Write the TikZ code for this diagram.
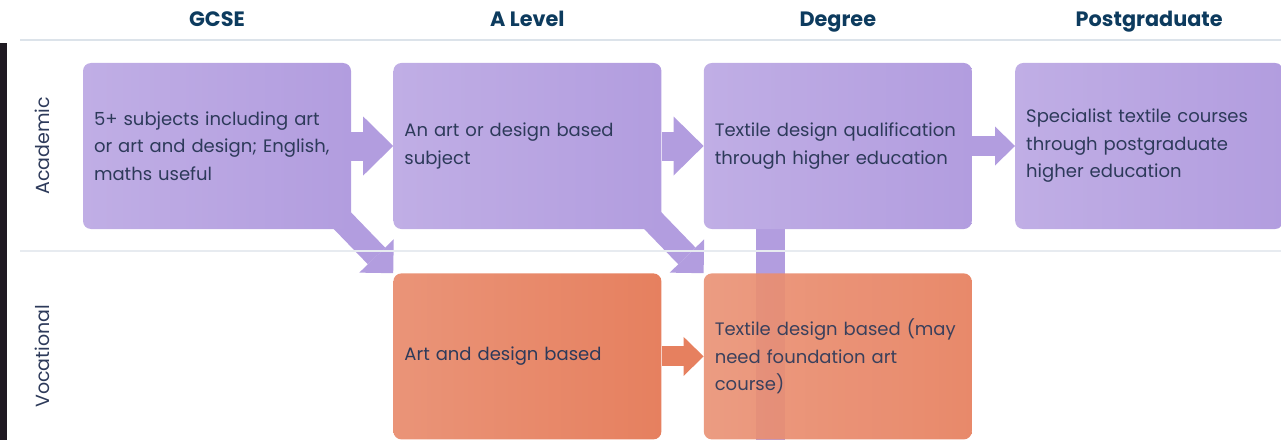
\documentclass[tikz,border=0pt]{standalone}
\usepackage{fontspec}
\setmainfont{Poppins}
\usetikzlibrary{positioning, arrows.meta, calc}
\definecolor{lilac}{HTML}{B29DDF}
\definecolor{lilaclight}{HTML}{C0AEE5}
\definecolor{coral}{HTML}{E6805F}
\definecolor{corallight}{HTML}{EA9478}
\definecolor{ink}{HTML}{2D3A5A}
\definecolor{navy}{HTML}{0D3B5E}
\definecolor{rulegrey}{HTML}{DCE3EA}
\definecolor{darkbar}{HTML}{1F1A22}
\pgfdeclarelayer{bg}
\pgfsetlayers{bg,main}

\begin{document}
\begin{tikzpicture}[x=1pt, y=1pt, node distance=42pt,
    box/.style={rounded corners=8pt, minimum width=268pt, minimum height=166pt,
      text width=246pt, inner sep=11pt, align=left, text=ink,
      font=\fontsize{18}{27.5}\selectfont},
    acad/.style={box, left color=lilaclight, right color=lilac},
    voc/.style={box, left color=corallight, right color=coral},
    head/.style={text=navy, anchor=base, font=\bfseries\fontsize{20.8}{24}\selectfont},
    row/.style={text=ink, rotate=90, font=\fontsize{19}{24}\selectfont},
    fat/.style={line width=29pt, -{Triangle[length=30pt 0 0, width=59pt 0 0, line width=0pt 0 0]}},
    slim/.style={line width=20pt, -{Triangle[length=20pt 0 0, width=39pt 0 0, line width=0pt 0 0]}},
    diag/.style={line width=24pt, -{Triangle[length=24pt 0 0, width=48pt 0 0, line width=0pt 0 0]}}]
  \useasboundingbox (0,0) rectangle (1281,440);

  % frame
  \fill[darkbar] (0,0) rectangle (7,397);
  \draw[rulegrey, line width=2.5pt] (20,400) -- (1281,400);
  \draw[rulegrey!70, line width=1.5pt] (20,189) -- (1281,189);

  % academic row
  \node[acad] (gcse) at (217,294) {5+ subjects including art\\or art and design; English,\\maths useful};
  \node[acad, right=of gcse] (alevel) {An art or design based\\subject};
  \node[acad, right=of alevel] (degree) {Textile design qualification\\through higher education};
  \node[acad, right=43pt of degree] (postgrad) {Specialist textile courses\\through postgraduate\\higher education};

  % vocational row
  \node[voc, below=44pt of alevel] (artdes) {Art and design based};
  \node[voc, right=of artdes, opacity=0.93] (textile) {Textile design based (may\\need foundation art\\course)};

  % headings
  \node[head] (hgcse) at ($(gcse.north)+(0,36)$) {GCSE};
  \node[head] (halevel) at ($(alevel.north)+(0,36)$) {A Level};
  \node[head] (hdegree) at ($(degree.north)+(0,36)$) {Degree};
  \node[head] (hpostgrad) at ($(postgrad.north)+(0,36)$) {Postgraduate};
  \node[row] (lacad) at (42,0 |- gcse) {Academic};
  \node[row] (lvoc) at (42,0 |- artdes) {Vocational};

  % connectors
  \begin{pgfonlayer}{bg}
    \draw[fat, lilac] (gcse.east) -- (alevel.west);
    \draw[fat, lilac] (alevel.east) -- (degree.west);
    \draw[slim, lilac] (degree.east) -- (postgrad.west);
    \draw[slim, coral] (artdes.east) -- (textile.west);
    \draw[diag, lilac] ($(gcse.south east)+(-18,18)$) -- (artdes.north west);
    \draw[diag, lilac] ($(alevel.south east)+(-18,18)$) -- (textile.north west);
    \coordinate (drop) at ($(degree.south west)!0.25!(degree.south east)$);
    \draw[lilac, line width=29pt] ($(drop)+(0,2)$) -- (drop |- textile.south);
  \end{pgfonlayer}
\end{tikzpicture}
\end{document}
